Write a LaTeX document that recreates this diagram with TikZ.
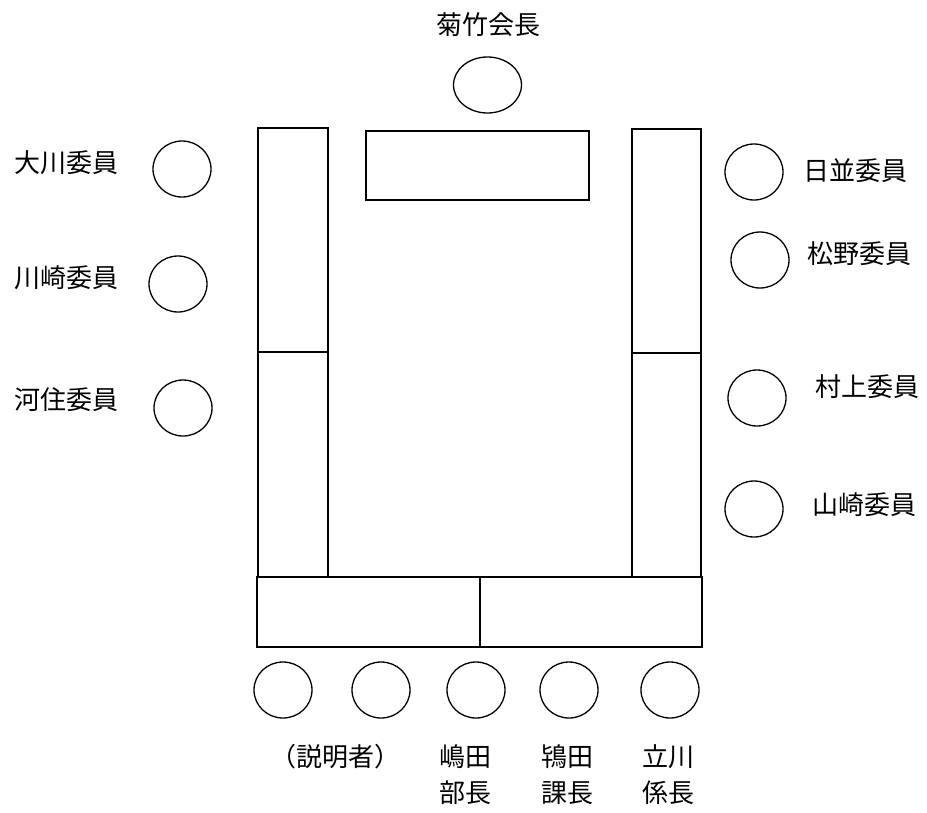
\documentclass[tikz,border=0pt]{standalone}
\usepackage{fontspec}
\newfontfamily\cjk{Noto Sans CJK JP}
\usetikzlibrary{shapes.geometric}
\begin{document}
\begin{tikzpicture}[x=1pt,y=-1pt,
  seat/.style={draw, line width=1.3pt, ellipse, inner sep=0pt, minimum width=58pt, minimum height=56pt},
  desk/.style={draw, line width=1.6pt, rectangle, inner sep=0pt},
  lbl/.style={font=\cjk\fontsize{26}{36}\selectfont, inner sep=0pt, align=center}]
\useasboundingbox (0,0) rectangle (927,812);
% tables
\node[desk, minimum width=70pt, minimum height=224pt] (lu) at (293,240) {};
\node[desk, minimum width=70pt, minimum height=225pt] (ll) at (293,464.5) {};
\node[desk, minimum width=69pt, minimum height=224pt] (ru) at (666.5,241) {};
\node[desk, minimum width=69pt, minimum height=224pt] (rl) at (666.5,465) {};
\node[desk, minimum width=223pt, minimum height=69pt] (top) at (477.5,165.5) {};
\node[desk, minimum width=223pt, minimum height=70pt] (bl) at (368.5,612) {};
\node[desk, minimum width=222pt, minimum height=70pt] (br) at (591,612) {};
% chair
\node[seat, minimum width=68pt, minimum height=56pt] (s0) at (487.5,85) {};
\node[lbl] (t0) at (488,25) {菊竹会長};
% left
\node[seat] (l1) at (182,169) {};
\node[seat] (l2) at (178,284) {};
\node[seat] (l3) at (183,408) {};
\node[lbl] (tl1) at (66,163) {大川委員};
\node[lbl] (tl2) at (66,278) {川崎委員};
\node[lbl] (tl3) at (66,400) {河住委員};
% right
\node[seat] (r1) at (754,172) {};
\node[seat] (r2) at (760,260) {};
\node[seat] (r3) at (757,398) {};
\node[seat] (r4) at (754,509) {};
\node[lbl] (tr1) at (855,171) {日並委員};
\node[lbl] (tr2) at (859,254) {松野委員};
\node[lbl] (tr3) at (867,387) {村上委員};
\node[lbl] (tr4) at (864,505) {山崎委員};
% bottom
\node[seat] (b1) at (283,690) {};
\node[seat] (b2) at (381,690) {};
\node[seat] (b3) at (476,690) {};
\node[seat] (b4) at (569,690) {};
\node[seat] (b5) at (670,690) {};
\node[lbl] (tb1) at (335,757) {（説明者）};
\node[lbl] (tb3) at (465,775) {嶋田\\部長};
\node[lbl] (tb4) at (567,775) {鴇田\\課長};
\node[lbl] (tb5) at (668,775) {立川\\係長};
\end{tikzpicture}
\end{document}
